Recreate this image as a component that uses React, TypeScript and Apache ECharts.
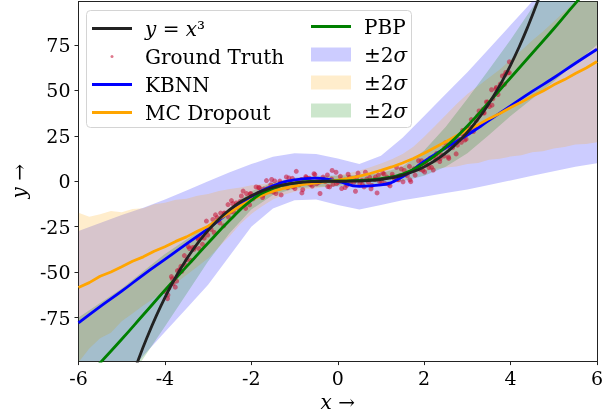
import React, { useEffect, useRef } from 'react';
import * as echarts from 'echarts';

const FONT = 'DejaVu Serif';

const X_TICKS = [-6, -4, -2, 0, 2, 4, 6];
const Y_TICKS = [-75, -50, -25, 0, 25, 50, 75];

// Ground truth samples
const GT_X = [
  -3.98, -3.94, -3.91, -3.85, -3.81, -3.76, -3.71, -3.66, -3.61, -3.55, -3.49, -3.46, -3.40, -3.36, -3.31, -3.24, -3.21, -3.15, -3.09, -3.04,
  -3.01, -2.95, -2.89, -2.86, -2.79, -2.76, -2.71, -2.64, -2.61, -2.54, -2.49, -2.46, -2.41, -2.35, -2.29, -2.26, -2.19, -2.15, -2.11, -2.04,
  -2.01, -1.96, -1.89, -1.84, -1.81, -1.74, -1.71, -1.65, -1.59, -1.55, -1.49, -1.46, -1.39, -1.34, -1.31, -1.24, -1.19, -1.16, -1.09, -1.05,
  -0.99, -0.96, -0.89, -0.84, -0.81, -0.74, -0.69, -0.66, -0.59, -0.55, -0.49, -0.46, -0.41, -0.34, -0.29, -0.24, -0.19, -0.14, -0.11, -0.04,
  0.01, 0.06, 0.09, 0.16, 0.21, 0.24, 0.29, 0.36, 0.41, 0.44, 0.51, 0.56, 0.61, 0.64, 0.71, 0.74, 0.79, 0.86, 0.91, 0.94,
  1.01, 1.04, 1.09, 1.14, 1.21, 1.26, 1.31, 1.36, 1.41, 1.44, 1.51, 1.54, 1.61, 1.66, 1.69, 1.76, 1.79, 1.86, 1.91, 1.94,
  2.01, 2.04, 2.11, 2.14, 2.21, 2.26, 2.29, 2.36, 2.39, 2.46, 2.49, 2.56, 2.59, 2.66, 2.71, 2.74, 2.81, 2.86, 2.89, 2.94,
  3.01, 3.06, 3.09, 3.14, 3.21, 3.24, 3.29, 3.36, 3.39, 3.44, 3.51, 3.56, 3.59, 3.66, 3.71, 3.76, 3.81, 3.86, 3.89, 3.94, 3.97,
  -3.93, -3.83, -3.73, -3.63, -3.53, -3.43, -3.33, -3.23, -3.13, -3.03, -2.93, -2.83, -2.73, -2.63, -2.53, -2.43, -2.33, -2.23, -2.13, -2.03,
  -1.93, -1.83, -1.73, -1.63, -1.53, -1.43, -1.33, -1.23, -1.13, -1.03, -0.93, -0.83, -0.73, -0.63, -0.53, -0.43, -0.33, -0.23, -0.13, -0.03,
  0.07, 0.17, 0.27, 0.37, 0.47, 0.57, 0.67, 0.77, 0.87, 0.97, 1.07, 1.17, 1.27, 1.37, 1.47, 1.57, 1.67, 1.77, 1.87, 1.97,
  2.07, 2.17, 2.27, 2.37, 2.47, 2.57, 2.67, 2.77, 2.87, 2.97, 3.07, 3.17, 3.27, 3.37, 3.47, 3.57, 3.67, 3.77, 3.87, 3.97,
];
const GT_Y = [
  -60.9, -64.6, -59.0, -52.5, -56.5, -58.3, -49.2, -48.7, -49.6, -40.9, -43.2, -35.9, -43.5, -36.5, -36.5, -31.1, -37.0, -30.7, -31.3, -21.9,
  -29.6, -24.8, -21.0, -28.2, -20.0, -21.5, -17.5, -24.5, -17.6, -12.8, -16.9, -10.6, -16.9, -11.9, -15.2, -11.1, -5.4, -10.8, -6.8, -13.0,
  -6.8, -9.6, -3.1, -6.6, -3.7, -8.9, -4.3, 0.4, -5.6, -1.9, -6.0, 0.2, -3.5, 0.1, -7.5, -0.9, 2.4, -3.5, -0.8, 1.6,
  -4.0, 5.5, -1.8, 1.0, -4.6, 2.6, -0.9, 1.7, -2.6, 4.2, -1.4, 0.8, -6.7, 2.3, -0.2, 3.5, -3.1, 1.2, -1.7, 5.0,
  -0.5, 2.7, -4.0, 0.6, -2.2, 3.9, -0.8, 1.5, -5.5, 2.2, -1.3, 0.5, -3.1, 5.0, -0.5, 2.2, -2.3, 1.0, -6.4, 3.4,
  0.0, 4.5, -1.2, 2.3, -2.5, 3.9, 1.6, 7.7, 0.8, 3.1, -0.3, 6.0, 3.0, 8.2, -0.2, 6.1, 3.4, 7.8, 6.6, 11.3,
  5.1, 9.6, 7.6, 12.7, 6.2, 11.7, 15.3, 10.9, 14.6, 13.9, 21.2, 13.4, 18.9, 18.5, 22.5, 15.1, 23.0, 21.5, 28.0, 22.7,
  28.5, 28.0, 34.0, 27.4, 33.6, 36.2, 30.7, 39.6, 37.6, 43.7, 41.2, 50.4, 45.5, 50.9, 47.8, 53.5, 58.0, 53.4, 59.9, 59.7, 65.8,
  -62.6, -53.7, -55.0, -46.8, -46.2, -37.0, -37.5, -31.9, -34.7, -27.4, -26.5, -18.5, -22.9, -17.5, -19.7, -12.3, -12.9, -8.1, -14.9, -6.9,
  -8.2, -3.4, -7.6, -4.1, 1.0, -6.7, -1.1, -2.8, 1.8, -3.1, -0.2, -6.4, 2.0, -1.8, 3.7, -0.5, 1.1, -2.9, 6.0, -1.2,
  0.8, -3.4, 2.2, -0.6, 4.5, -1.8, 1.2, -4.1, 2.3, -0.2, 4.1, -1.6, 2.5, 0.9, 6.8, 3.7, 0.8, 6.9, 11.3, 6.0,
  9.2, 7.7, 13.8, 12.5, 18.4, 12.6, 20.2, 19.9, 26.2, 23.2, 29.8, 30.0, 38.7, 37.8, 43.6, 41.9, 51.7, 52.4, 58.6, 59.8,
];

// y = x^3 reference curve
const CUBE_X = [
  -4.8, -4.6, -4.4, -4.2, -4.0, -3.8, -3.6, -3.4, -3.2, -3.0, -2.8, -2.6, -2.4, -2.2, -2.0, -1.8, -1.6, -1.4, -1.2, -1.0, -0.8, -0.6, -0.4, -0.2, 0,
  0.2, 0.4, 0.6, 0.8, 1.0, 1.2, 1.4, 1.6, 1.8, 2.0, 2.2, 2.4, 2.6, 2.8, 3.0, 3.2, 3.4, 3.6, 3.8, 4.0, 4.2, 4.4, 4.6, 4.8,
];
const CUBE_Y = [
  -110.6, -97.3, -85.2, -74.1, -64.0, -54.9, -46.7, -39.3, -32.8, -27.0, -22.0, -17.6, -13.8, -10.6, -8.0, -5.8, -4.1, -2.7, -1.7, -1.0, -0.5, -0.2, -0.1, 0.0, 0,
  0.0, 0.1, 0.2, 0.5, 1.0, 1.7, 2.7, 4.1, 5.8, 8.0, 10.6, 13.8, 17.6, 22.0, 27.0, 32.8, 39.3, 46.7, 54.9, 64.0, 74.1, 85.2, 97.3, 110.6,
];

// grid (0.5 step) for KBNN / PBP
const GX = [-6, -5.5, -5, -4.5, -4, -3.5, -3, -2.5, -2, -1.5, -1, -0.5, 0, 0.5, 1, 1.5, 2, 2.5, 3, 3.5, 4, 4.5, 5, 5.5, 6];
const KBNN_MEAN = [-78, -69, -60.5, -51.5, -43, -34.5, -26, -17, -8.5, -2.5, 0.8, 1.8, 0, -2.8, -2, 2.5, 11, 18.5, 25.5, 33.5, 41.5, 49.5, 57, 65, 72.7];
const KBNN_UP = [-27.4, -23, -18.5, -14.5, -10, -5, 0, 5, 9.5, 13.5, 15.5, 15, 12.5, 9.5, 14, 24, 36, 48, 60, 73, 86, 99, 111, 124, 136];
const KBNN_LO = [-135, -122, -110, -96, -83, -70, -57, -41, -25, -15, -10.5, -10, -13, -15.5, -13, -10.5, -8.5, -6.5, -4.5, -2, 0.5, 3, 5.5, 8, 10];
const PBP_MEAN = [-113, -100, -87, -73.5, -60, -47, -34, -21.5, -10.5, -4, -1, 0, 0.2, 0.5, 1.5, 4, 10, 19, 30.5, 43.5, 57, 70.5, 84, 98, 111];
const PBP_UP = [-75, -67, -59, -49.5, -40, -32, -24, -14.5, -5.5, -0.5, 2, 3, 3.2, 3.5, 4.5, 8, 17, 30, 45.5, 61.5, 78, 95.5, 113, 131, 147];
const PBP_LO = [-151, -133, -115, -97.5, -80, -62, -44, -28.5, -15.5, -7.5, -4, -3, -2.8, -2.5, -1.5, 0, 3, 8, 15.5, 25.5, 36, 45.5, 55, 65, 75];

// grid (0.25 step) for MC Dropout
const MX = [
  -6, -5.75, -5.5, -5.25, -5, -4.75, -4.5, -4.25, -4, -3.75, -3.5, -3.25, -3, -2.75, -2.5, -2.25, -2, -1.75, -1.5, -1.25, -1, -0.75, -0.5, -0.25, 0,
  0.25, 0.5, 0.75, 1, 1.25, 1.5, 1.75, 2, 2.25, 2.5, 2.75, 3, 3.25, 3.5, 3.75, 4, 4.25, 4.5, 4.75, 5, 5.25, 5.5, 5.75, 6,
];
const MC_MEAN = [
  -58.5, -55.8, -52.3, -49.9, -47.0, -44.0, -41.6, -38.5, -36.0, -33.1, -30.6, -27.5, -24.7, -20.8, -17.2, -13.4, -10.1, -7.6, -5.4, -3.9, -2.6, -1.6, -0.9, -0.2, 0.6,
  1.6, 2.8, 4.3, 6.0, 7.9, 10.1, 12.6, 15.4, 18.6, 21.8, 25.1, 28.3, 31.2, 34.5, 37.3, 40.6, 43.6, 46.8, 49.7, 53.1, 56.0, 59.4, 62.4, 66.0,
];
const MC_UP = [
  -17.3, -19.5, -18.2, -16.4, -17.0, -15.2, -14.8, -12.6, -11.8, -10.1, -9.6, -8.0, -7.0, -5.4, -4.3, -3.4, -2.2, -1.5, -0.8, -0.4, 0.5, 1.2, 2.0, 2.6, 3.4,
  4.5, 6.0, 7.8, 9.8, 12.2, 15.0, 19.0, 24.5, 30.5, 36.5, 42.5, 48.0, 52.5, 57.0, 61.5, 67.0, 72.0, 77.5, 82.5, 88.0, 93.5, 99.0, 104.5, 110.5,
];
const MC_LO = [
  -99.7, -92.1, -86.4, -83.4, -77.0, -72.8, -68.4, -64.4, -60.2, -56.1, -51.6, -47.0, -42.4, -36.2, -30.1, -23.4, -18.0, -13.7, -10.0, -7.4, -5.7, -4.4, -3.8, -3.0, -2.2,
  -1.3, -0.4, 0.8, 2.2, 3.4, 4.6, 4.9, 5.2, 6.9, 7.6, 8.2, 9.5, 10.1, 11.8, 12.4, 13.6, 14.3, 16.0, 16.6, 18.1, 18.9, 20.3, 20.6, 21.5,
];

const pairs = (xs: number[], ys: number[]) => xs.map((x, i) => [x, ys[i]]);

function band(name: string, xs: number[], up: number[], lo: number[], color: string, z: number) {
  return {
    type: 'custom',
    name,
    z,
    silent: true,
    clip: true,
    itemStyle: { color },
    data: [[xs[0], up[0]]],
    encode: { x: 0, y: 1 },
    renderItem: (params: any, api: any) => {
      const pts: number[][] = [];
      for (let i = 0; i < xs.length; i++) pts.push(api.coord([xs[i], up[i]]));
      for (let i = xs.length - 1; i >= 0; i--) pts.push(api.coord([xs[i], lo[i]]));
      const cs = params.coordSys;
      return {
        type: 'polygon',
        shape: { points: pts },
        style: { fill: color },
        clipPath: { type: 'rect', shape: { x: cs.x, y: cs.y, width: cs.width, height: cs.height } },
      };
    },
  };
}

const BLUE_BAND = 'rgba(0,0,255,0.2)';
const ORANGE_BAND = 'rgba(255,165,0,0.2)';
const GREEN_BAND = 'rgba(0,128,0,0.2)';
const LINE_ICON = 'path://M0,0M40,14M0,5.6L40,5.6L40,8.4L0,8.4Z';
const DOT_ICON = 'path://M0,0M40,14M18.5,7a1.5,1.5 0 1,0 3,0a1.5,1.5 0 1,0 -3,0';

const legendText = (name: string) => {
  if (name === 'y = x³') return '{i|y} = {i|x}³';
  if (name.endsWith('±2σ')) return '±2{i|σ}';
  return name;
};

const legendTextStyle = {
  fontFamily: FONT,
  fontSize: 20,
  color: '#000',
  lineHeight: 24,
  padding: [0, 0, 0, 8],
  rich: { i: { fontFamily: FONT, fontStyle: 'italic', fontSize: 20, lineHeight: 24, color: '#000' } },
};

export default function App() {
  const ref = useRef<HTMLDivElement>(null);
  useEffect(() => {
    const chart = echarts.init(ref.current!, null, { renderer: 'svg' });
    const option: any = {
      animation: false,
      grid: { left: 78.5, right: 19, top: 1.5, bottom: 55.5, show: false },
      xAxis: [
        {
          type: 'value', min: -6, max: 6, interval: 2,
          axisLine: { show: true, onZero: false, lineStyle: { color: '#222', width: 1 } },
          axisTick: { show: true, length: 4, lineStyle: { color: '#222' } },
          axisLabel: { fontFamily: FONT, fontSize: 19, color: '#000', margin: 7 },
          splitLine: { show: false },
          name: '{i|x} →', nameLocation: 'middle', nameGap: 29,
          nameTextStyle: { fontFamily: FONT, fontSize: 20, color: '#000', rich: { i: { fontFamily: FONT, fontStyle: 'italic', fontSize: 20, color: '#000' } } },
        },
        {
          type: 'value', position: 'top', min: -6, max: 6,
          axisLine: { show: true, onZero: false, lineStyle: { color: '#222', width: 1 } },
          axisTick: { show: false }, axisLabel: { show: false }, splitLine: { show: false },
        },
      ],
      yAxis: [
        {
          type: 'value', min: -99, max: 99,
          axisLine: { show: true, onZero: false, lineStyle: { color: '#222', width: 1 } },
          axisTick: { show: true, length: 4, customValues: Y_TICKS, lineStyle: { color: '#222' } },
          axisLabel: { fontFamily: FONT, fontSize: 19, color: '#000', margin: 8, customValues: Y_TICKS },
          splitLine: { show: false },
          name: '{i|y} →', nameLocation: 'middle', nameGap: 46,
          nameTextStyle: { fontFamily: FONT, fontSize: 20, color: '#000', rich: { i: { fontFamily: FONT, fontStyle: 'italic', fontSize: 20, color: '#000' } } },
        },
        {
          type: 'value', position: 'right', min: -99, max: 99,
          axisLine: { show: true, onZero: false, lineStyle: { color: '#222', width: 1 } },
          axisTick: { show: false }, axisLabel: { show: false }, splitLine: { show: false },
        },
      ],
      graphic: [
        {
          type: 'rect', z: 3, silent: true,
          shape: { x: 86.5, y: 10.5, width: 325, height: 117, r: 4 },
          style: { fill: 'rgba(255,255,255,0.8)', stroke: '#d4d4d4', lineWidth: 1 },
        },
      ],
      legend: [
        {
          orient: 'vertical', left: 92, top: 16.5, padding: 0, itemWidth: 40, itemHeight: 14, itemGap: 4,
          selectedMode: false, z: 4, formatter: legendText, textStyle: legendTextStyle,
          itemStyle: { borderWidth: 0 },
          data: [
            { name: 'y = x³', icon: LINE_ICON },
            { name: 'Ground Truth', icon: DOT_ICON },
            { name: 'KBNN', icon: LINE_ICON },
            { name: 'MC Dropout', icon: LINE_ICON },
          ],
        },
        {
          orient: 'vertical', left: 311, top: 14.5, padding: 0, itemWidth: 40, itemHeight: 14, itemGap: 4,
          selectedMode: false, z: 4, formatter: legendText, textStyle: legendTextStyle,
          itemStyle: { borderWidth: 0 },
          data: [
            { name: 'PBP', icon: LINE_ICON },
            { name: 'KBNN ±2σ', icon: 'rect', itemStyle: { color: BLUE_BAND } },
            { name: 'MC Dropout ±2σ', icon: 'rect', itemStyle: { color: ORANGE_BAND } },
            { name: 'PBP ±2σ', icon: 'rect', itemStyle: { color: GREEN_BAND } },
          ],
        },
      ],
      series: [
        band('KBNN ±2σ', GX, KBNN_UP, KBNN_LO, BLUE_BAND, 1),
        band('MC Dropout ±2σ', MX, MC_UP, MC_LO, ORANGE_BAND, 1),
        band('PBP ±2σ', GX, PBP_UP, PBP_LO, GREEN_BAND, 1),
        {
          type: 'scatter', name: 'Ground Truth', z: 2, symbolSize: 5,
          itemStyle: { color: 'rgba(200,20,55,0.72)' },
          data: pairs(GT_X, GT_Y),
        },
        {
          type: 'line', name: 'KBNN', z: 3, symbol: 'none', smooth: true,
          lineStyle: { color: '#0000ff', width: 2.8 }, itemStyle: { color: '#0000ff' },
          data: pairs(GX, KBNN_MEAN),
        },
        {
          type: 'line', name: 'MC Dropout', z: 3, symbol: 'none', smooth: false,
          lineStyle: { color: '#ffa500', width: 2.8 }, itemStyle: { color: '#ffa500' },
          data: pairs(MX, MC_MEAN),
        },
        {
          type: 'line', name: 'PBP', z: 3, symbol: 'none', smooth: true,
          lineStyle: { color: '#008000', width: 2.8 }, itemStyle: { color: '#008000' },
          data: pairs(GX, PBP_MEAN),
        },
        {
          type: 'line', name: 'y = x³', z: 3, symbol: 'none', smooth: true,
          lineStyle: { color: '#222', width: 2.8 }, itemStyle: { color: '#222' },
          data: pairs(CUBE_X, CUBE_Y),
        },
      ],
    };
    chart.setOption(option);
    return () => chart.dispose();
  }, []);
  return <div ref={ref} style={{ position: 'fixed', left: 0, top: 0, width: 616, height: 417 }} />;
}
